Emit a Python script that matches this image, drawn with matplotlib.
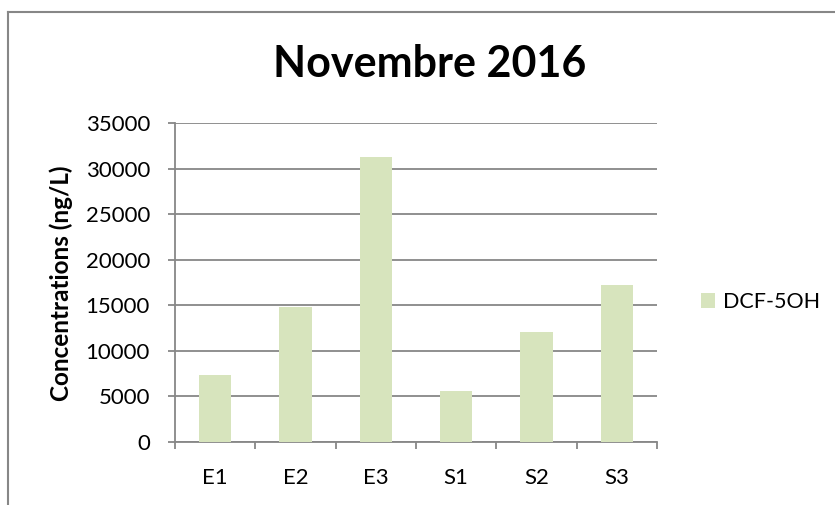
import matplotlib
matplotlib.use("Agg")
import matplotlib.pyplot as plt
from matplotlib.lines import Line2D
import numpy as np

categories = ["E1", "E2", "E3", "S1", "S2", "S3"]
values = [7400, 14800, 31300, 5650, 12100, 17250]
series_name = "DCF-5OH"
yticks = [0, 5000, 10000, 15000, 20000, 25000, 30000, 35000]

plt.rcParams['font.family'] = ['Lato', 'DejaVu Sans']

W, H = 835, 505
fig = plt.figure(figsize=(W/100, H/100), dpi=100)
fig.patch.set_facecolor("white")

border = "#878787"
# outer chart border: only left and top visible in reference
fig.add_artist(Line2D([8/W, 8/W], [0, 1-12/H], transform=fig.transFigure,
                      color=border, linewidth=1.5))
fig.add_artist(Line2D([8/W, 1], [1-12/H, 1-12/H], transform=fig.transFigure,
                      color=border, linewidth=1.5))

ax = fig.add_axes([175/W, 1-442/H, (657-175)/W, (442-123)/H])
x = np.arange(len(categories))
ax.bar(x, values, width=0.4, color="#D7E4BD", label=series_name, zorder=3)

ax.set_xlim(-0.5, len(categories)-0.5)
ax.set_ylim(0, 35000)
ax.set_yticks(yticks)
ax.set_yticklabels([str(t) for t in yticks], fontsize=16)
ax.yaxis.grid(True, color=border, linewidth=1.3, zorder=0)
ax.set_axisbelow(True)

ax.set_xticks(np.arange(-0.5, len(categories), 1.0))
ax.set_xticklabels([])
ax.set_xticks(x, minor=True)
ax.set_xticklabels(categories, minor=True, fontsize=16)
ax.tick_params(axis='x', which='minor', length=0, pad=19)
ax.tick_params(axis='x', which='major', length=5, color=border, width=1.3)
ax.tick_params(axis='y', length=5, color=border, width=1.3, pad=13)

for s in ["top", "right"]:
    ax.spines[s].set_visible(False)
for s in ["left", "bottom"]:
    ax.spines[s].set_color(border)
    ax.spines[s].set_linewidth(1.3)

fig.text(61/W, 1-283/H, "Concentrations (ng/L)", rotation=90, ha="center",
         va="center", fontsize=17.5, fontweight="bold")
fig.text(430/W, 1-77/H, "Novembre 2016", ha="center", va="baseline",
         fontsize=31, fontweight="bold")

fig.legend(loc="center left", bbox_to_anchor=(701/W, 1-302/H),
           bbox_transform=fig.transFigure, frameon=False, fontsize=15.5,
           borderpad=0, borderaxespad=0, handlelength=0.65, handleheight=0.65,
           handletextpad=0.37)

fig.savefig("out.png", dpi=100, facecolor="white")
